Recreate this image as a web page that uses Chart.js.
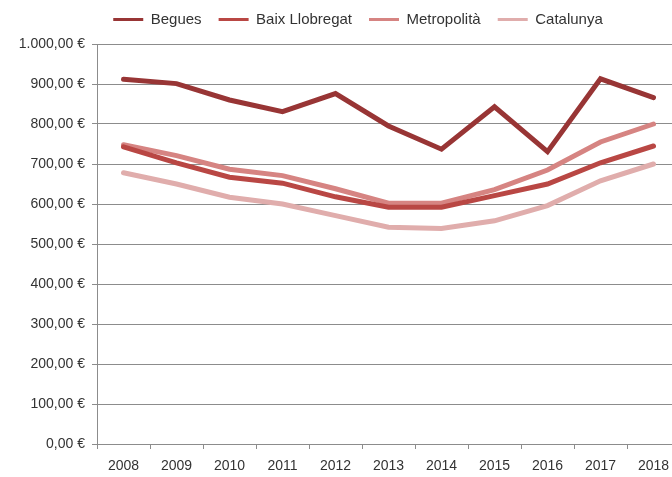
<!DOCTYPE html>
<html>
<head>
<meta charset="utf-8">
<script src="https://cdn.jsdelivr.net/npm/chart.js@4"></script>
<style>
html,body{margin:0;padding:0;background:#fff;overflow:hidden;width:672px;height:477px;}
#wrap{position:absolute;left:0;top:0;width:680px;height:477px;}
</style>
</head>
<body>
<div id="wrap"><canvas id="c" width="680" height="477"></canvas></div>
<script>
const years = ['2008','2009','2010','2011','2012','2013','2014','2015','2016','2017','2018'];
const begues = [912, 901, 860, 831, 876, 795, 737, 843, 731, 913, 866];
const baixLlobregat = [743, 703, 667, 652, 618, 592, 592, 621, 650, 703, 745];
const metropolita = [748, 721, 687, 671, 638, 602, 602, 636, 685, 755, 800];
const catalunya = [678, 650, 617, 600, 571, 542, 539, 558, 596, 658, 700];
const seriesNames = ['Begues', 'Baix Llobregat', 'Metropolità', 'Catalunya'];
const yTicks = [0,100,200,300,400,500,600,700,800,900,1000];

const colors = ['#983535', '#b94744', '#d68482', '#e0adac'];
const allSeries = [begues, baixLlobregat, metropolita, catalunya];

function euro(v){
  let intPart = Math.floor(v).toString();
  intPart = intPart.replace(/\B(?=(\d{3})+(?!\d))/g, '.');
  return intPart + ',00 €';
}

const FONT = "'Liberation Sans', Arial, sans-serif";
const GRID = '#8c8c8c';
const TEXT = '#333333';

const shiftLegend = {
  id: 'shiftLegend',
  afterLayout(chart){
    chart.legend.left += 18;
    chart.legend.right += 18;
    chart.legend.top -= 7;
    chart.legend.bottom -= 7;
  }
};

new Chart(document.getElementById('c'), {
  type: 'line',
  data: {
    labels: years,
    datasets: allSeries.map((d, i) => ({
      label: seriesNames[i],
      data: d,
      borderColor: colors[i],
      backgroundColor: colors[i],
      borderWidth: 5,
      pointRadius: 0,
      tension: 0,
      borderCapStyle: 'round',
      borderJoinStyle: 'miter'
    }))
  },
  plugins: [shiftLegend],
  options: {
    responsive: false,
    animation: false,
    layout: { padding: { top: 2, left: 0, right: 0, bottom: 0 } },
    plugins: {
      tooltip: { enabled: false },
      legend: {
        position: 'top',
        labels: {
          font: { family: FONT, size: 15 },
          color: TEXT,
          boxWidth: 30,
          boxHeight: 3,
          padding: 17,
          generateLabels(chart){
            const items = Chart.defaults.plugins.legend.labels.generateLabels(chart);
            items.forEach(it => { it.lineWidth = 0; });
            return items;
          }
        }
      }
    },
    scales: {
      x: {
        type: 'category',
        offset: true,
        grid: { display: true, offset: true, drawOnChartArea: false, drawTicks: true, tickLength: 5, color: GRID },
        border: { display: true, color: GRID, width: 1 },
        ticks: { font: { family: FONT, size: 14 }, color: TEXT, padding: 9, maxRotation: 0, autoSkip: false },
        afterFit(scale){ scale.height = 33; }
      },
      y: {
        min: 0,
        max: 1000,
        afterBuildTicks(scale){ scale.ticks = yTicks.map(v => ({ value: v })); },
        grid: { color: GRID, tickLength: 5, drawTicks: true },
        border: { display: true, color: GRID, width: 1 },
        ticks: {
          font: { family: FONT, size: 14 },
          color: TEXT,
          padding: 7,
          callback: (v) => euro(v)
        },
        afterFit(scale){ scale.width = 97; }
      }
    }
  }
});
</script>
</body>
</html>
